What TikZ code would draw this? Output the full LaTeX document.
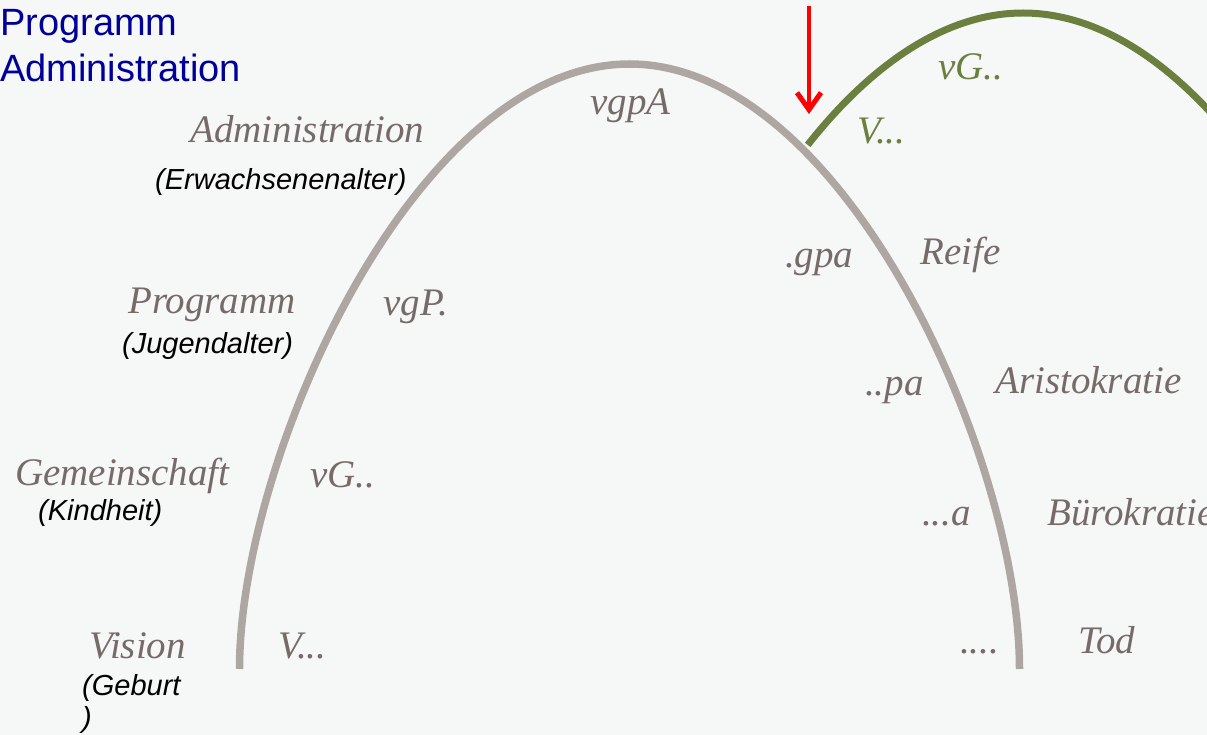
\documentclass[tikz,border=0pt]{standalone}
\usepackage{fontspec}
\setmainfont{Liberation Serif}
\newfontfamily\arialfont{Liberation Sans}
\usetikzlibrary{arrows.meta}
\definecolor{bgc}{HTML}{F6F8F8}
\definecolor{archc}{HTML}{ADA6A3}
\definecolor{txtc}{HTML}{776B69}
\definecolor{greenc}{HTML}{6C7F3E}
\definecolor{bluec}{HTML}{000099}
\begin{document}
\begin{tikzpicture}[x=1pt,y=-1pt,
  lbl/.style={font=\fontsize{39}{47}\selectfont\itshape, text=txtc, inner sep=0pt, anchor=base west},
  glbl/.style={lbl, text=greenc},
  sub/.style={font=\arialfont\itshape\fontsize{29}{34}\selectfont, text=black, inner sep=0pt, anchor=base west},
  bluetxt/.style={font=\arialfont\fontsize{38}{46}\selectfont, text=bluec, inner sep=0pt, anchor=base west},
  arch/.style={draw=archc, line width=7.5pt},
  garch/.style={draw=greenc, line width=7pt},
  redarrow/.style={draw=red, line width=4.5pt, -{Straight Barb[length=17pt,width=24pt,line width=5pt]}}
]
\fill[bgc] (0,0) rectangle (1207,735);
\useasboundingbox (0,0) rectangle (1207,735);

% green arch (clipped)
\begin{scope}
\clip (0,0) rectangle (1207,735);
\draw[garch] (807.7,144.9) .. controls (869.5,66.6) and (943.6,13) .. (1023,13)
  .. controls (1237.5,13) and (1413.5,405) .. (1413.5,616);
\end{scope}

% grey arch
\draw[arch] (239.5,669) .. controls (239.5,457) and (415.5,64) .. (629.5,64)
  .. controls (843.5,64) and (1019.5,457) .. (1019.5,669);

% red arrow
\coordinate (arrtop) at (809,6);
\coordinate (arrtip) at (809,114);
\draw[redarrow] (arrtop) -- (arrtip);

% blue heading
\node[bluetxt] (h1) at (0,36) {Programm};
\node[bluetxt] (h2) at (0,82) {Administration};

% left labels
\node[lbl] (adm) at (190,143) {Administration};
\node[sub] (erw) at (155,190) {(Erwachsenenalter)};
\node[lbl] (prog) at (128,313) {Programm};
\node[sub] (jug) at (122,353) {(Jugendalter)};
\node[lbl] (gem) at (15,485) {Gemeinschaft};
\node[sub] (kind) at (38,520) {(Kindheit)};
\node[lbl] (vis) at (89,658) {Vision};
\node[sub] (geb) at (82,695) {(Geburt};
\node[sub] (gebp) at (82,727) {)};

% inner labels
\node[lbl] (vgpa) at (590,115) {vgpA};
\node[lbl] (vgp) at (383,315) {vgP.};
\node[lbl] (vgl) at (310,487) {vG..};
\node[lbl] (vl) at (278,658) {V...};
\node[lbl] (gpa) at (785,268) {.gpa};
\node[lbl] (pa) at (865,395) {..pa};
\node[lbl] (a) at (922,525) {...a};
\node[lbl] (dots) at (960,653) {....};

% right labels
\node[lbl] (reife) at (920,265) {Reife};
\node[lbl] (ari) at (995,393) {Aristokratie};
\node[lbl] (bur) at (1047,525) {Bürokratie};
\node[lbl] (tod) at (1078,653) {Tod};

% green labels
\node[glbl] (gv) at (857,144) {V...};
\node[glbl] (gvg) at (938,80) {vG..};
\end{tikzpicture}
\end{document}
